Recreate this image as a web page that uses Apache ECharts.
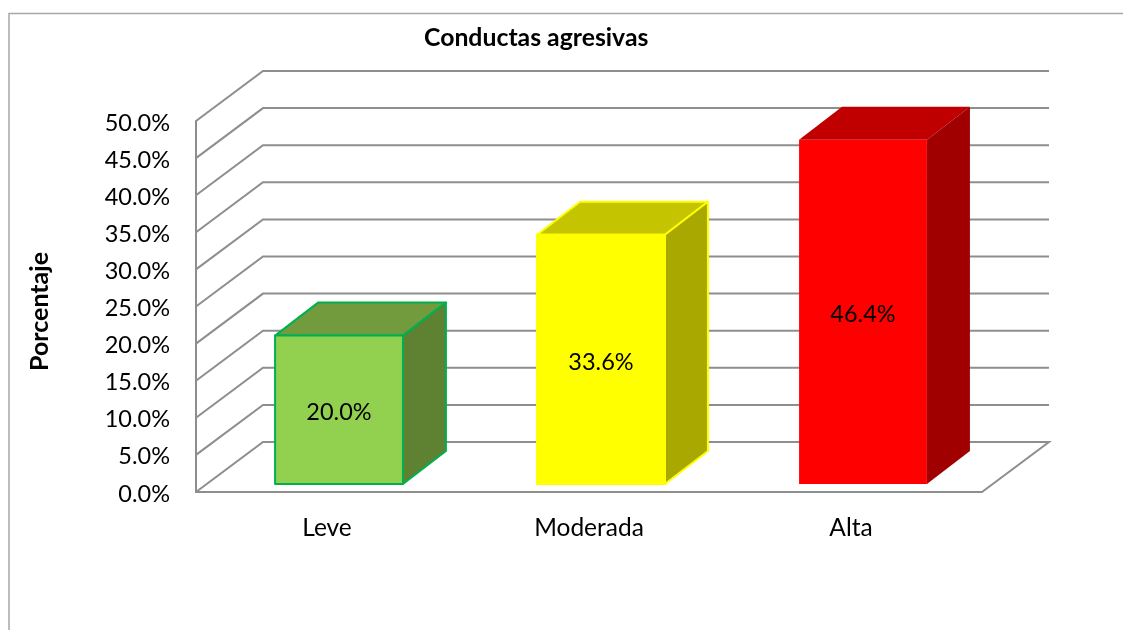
<!DOCTYPE html>
<html>
<head>
<meta charset="utf-8">
<style>
  html, body { margin: 0; padding: 0; background: #fff; }
  #chart { width: 1123px; height: 630px; }
</style>
<script src="https://cdn.jsdelivr.net/npm/echarts@6/dist/echarts.min.js"></script>
</head>
<body>
<div id="chart"></div>
<script>
const categories = ['Leve', 'Moderada', 'Alta'];
const values = [20.0, 33.6, 46.4];
const ticks = [0, 5, 10, 15, 20, 25, 30, 35, 40, 45, 50];

const faceColors = ['#92D050', '#FFFF00', '#FF0000'];
const topColors = ['#729B3E', '#C4C400', '#C00000'];
const sideColors = ['#5E8231', '#A8A800', '#A00000'];
const edgeColors = ['#00B050', '#FFFF00', null];

const FONT = 'Lato, "Open Sans", sans-serif';
const GRID_COLOR = '#8E8E8E';

// profundidad del falso 3D, en pixeles
const wallDx = 67, wallDy = -50;
const barDx = 43, barDy = -33;
const barFrontDx = 12, barFrontDy = -8;

const chart = echarts.init(document.getElementById('chart'));

// paredes y piso
function renderWall(params, api) {
  const box = params.coordSys;
  const y = api.coord([0, api.value(1)])[1];
  const left = box.x, right = box.x + box.width;
  const points = [[left, y], [left + wallDx, y + wallDy], [right + wallDx, y + wallDy]];
  if (api.value(1) === 0) {
    points.push([right, y]);
  }
  return {
    type: 'polyline',
    shape: { points: points },
    style: { fill: 'none', stroke: GRID_COLOR, lineWidth: 2 }
  };
}

// barra: cara frontal, tapa, lado y etiqueta
function renderBar(params, api) {
  const i = api.value(0);
  const band = api.size([1, 0])[0];
  const w = band * 0.488;
  const top = api.coord([i, api.value(1)]);
  const base = api.coord([i, 0]);
  const x0 = top[0] + barFrontDx - w / 2, x1 = x0 + w;
  const y0 = top[1] + barFrontDy, y1 = base[1] + barFrontDy;
  const edge = { stroke: edgeColors[i], lineWidth: 2, lineJoin: 'round' };
  return {
    type: 'group',
    children: [
      {
        type: 'polygon',
        shape: { points: [[x0, y0], [x0 + barDx, y0 + barDy], [x1 + barDx, y0 + barDy], [x1, y0]] },
        style: Object.assign({ fill: topColors[i] }, edge)
      },
      {
        type: 'polygon',
        shape: { points: [[x1, y0], [x1 + barDx, y0 + barDy], [x1 + barDx, y1 + barDy], [x1, y1]] },
        style: Object.assign({ fill: sideColors[i] }, edge)
      },
      {
        type: 'rect',
        shape: { x: x0, y: y0, width: w, height: y1 - y0 },
        style: Object.assign({ fill: faceColors[i] }, edge)
      },
      {
        type: 'text',
        style: {
          x: (x0 + x1) / 2,
          y: (y0 + y1) / 2 + 3,
          text: api.value(1).toFixed(1) + '%',
          fill: '#000',
          font: '23.5px ' + FONT,
          align: 'center',
          verticalAlign: 'middle'
        }
      }
    ]
  };
}

const option = {
  animation: false,
  backgroundColor: '#fff',
  title: {
    text: 'Conductas agresivas',
    left: 419,
    top: 21,
    textStyle: { color: '#000', fontFamily: FONT, fontSize: 24.8, fontWeight: 'bold' }
  },
  grid: { left: 196, top: 121, width: 786, height: 371 },
  xAxis: {
    type: 'category',
    data: categories,
    axisLine: { show: true, lineStyle: { color: GRID_COLOR, width: 2 } },
    axisTick: { show: false },
    axisLabel: { color: '#000', fontFamily: FONT, fontSize: 24.5, margin: 24 }
  },
  yAxis: {
    type: 'value',
    min: 0,
    max: 50,
    interval: 5,
    name: 'Porcentaje',
    nameLocation: 'middle',
    nameGap: 144,
    nameTextStyle: { color: '#000', fontFamily: FONT, fontSize: 25, fontWeight: 'bold', padding: [0, 10, 0, 0] },
    axisLine: { show: true, lineStyle: { color: GRID_COLOR, width: 2 } },
    axisTick: { show: false },
    splitLine: { show: false },
    axisLabel: {
      margin: 26,
      formatter: v => '{t|' + v.toFixed(1) + '%}',
      rich: {
        t: {
          color: '#000',
          fontFamily: FONT,
          fontSize: 23.5,
          padding: [4, 0, 0, 0]
        }
      }
    }
  },
  graphic: [{
    type: 'polyline',
    shape: { points: [[9, 630], [9, 13.5], [1123, 13.5]] },
    style: { fill: 'none', stroke: '#A6A6A6', lineWidth: 1.5 }
  }],
  series: [
    {
      type: 'custom',
      z: 1,
      renderItem: renderWall,
      encode: { y: 1 },
      data: ticks.map(t => [0, t])
    },
    {
      type: 'custom',
      z: 2,
      renderItem: renderBar,
      encode: { x: 0, y: 1 },
      data: values.map((v, i) => [i, v])
    }
  ]
};

chart.setOption(option);
</script>
</body>
</html>
